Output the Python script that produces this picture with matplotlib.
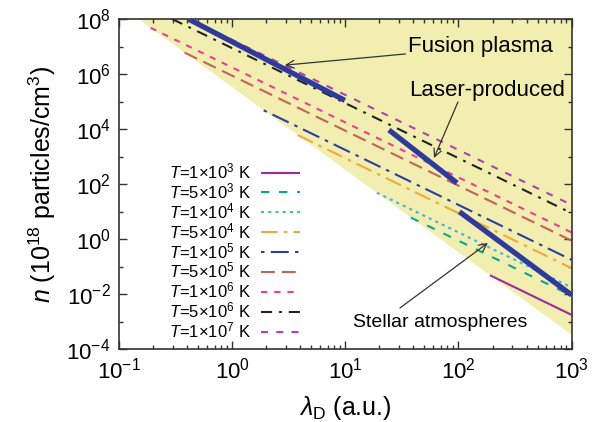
import matplotlib
matplotlib.use("Agg")
import matplotlib.pyplot as plt
from matplotlib.ticker import LogLocator, NullFormatter, FixedLocator

plt.rcParams['font.family'] = ['Liberation Sans', 'DejaVu Sans']
plt.rcParams['mathtext.fontset'] = 'custom'
plt.rcParams['mathtext.rm'] = 'Liberation Sans'
plt.rcParams['mathtext.it'] = 'Liberation Sans:italic'
plt.rcParams['lines.scale_dashes'] = False

# ---- data ----
temps_label = ["1\u00d710$^{3}$", "5\u00d710$^{3}$", "1\u00d710$^{4}$", "5\u00d710$^{4}$",
               "1\u00d710$^{5}$", "5\u00d710$^{5}$", "1\u00d710$^{6}$", "5\u00d710$^{6}$",
               "1\u00d710$^{7}$"]
# start / end of each temperature line (lambda_D in a.u., n in 1e18 cm^-3)
lam_start = [190, 38, 19, 3.8, 1.9, 0.38, 0.19, 0.295, 0.417]
n_start   = [0.048, 6.0, 48, 6.0e3, 4.8e4, 6.0e6, 4.8e7, 1e8, 1e8]
lam_end   = [1000, 1000, 1000, 1000, 1000, 1000, 1000, 1000, 1000]
n_end     = [0.00174, 0.0087, 0.0174, 0.087, 0.174, 0.87, 1.74, 8.7, 17.4]

# boundary of the shaded (plasma) region
bound_lam = [0.149, 1000, 1000]
bound_n   = [1e8, 3.3e-4, 1e8]

# thick highlighted segments
fusion_lam, fusion_n = [0.41, 9.9], [1e8, 1.1e5]
laser_lam, laser_n = [24.3, 97], [9.2e3, 109]
stellar_lam, stellar_n = [102, 1000], [9.8, 0.0092]

colors = ['#a3299b', '#00a98f', '#3db4e6', '#eeaa3a', '#2b3fa0',
          '#c0645a', '#f03c96', '#222222', '#b040b0']
dashes = [None, (6, 7), (2.2, 3), (12, 4.5, 2.5, 4.5), (2.5, 4.5, 13, 4.5),
          (10, 5), (4.5, 5), (8, 5, 2, 5), (5, 6)]

fig = plt.figure(figsize=(6.0, 4.22), dpi=100)
ax = fig.add_axes([119/600, 1-349/422, 452.6/600, 330/422])
ax.set_xscale('log')
ax.set_yscale('log')
ax.set_xlim(0.1, 1000)
ax.set_ylim(1e-4, 1e8)

ax.fill(bound_lam, bound_n, color='#f2eeb0', zorder=0, lw=0)

handles = []
for i in range(len(temps_label)):
    ln, = ax.plot([lam_start[i], lam_end[i]], [n_start[i], n_end[i]],
                  color=colors[i], lw=1.5, solid_capstyle='butt', dash_capstyle='butt',
                  label=r'$T$=' + temps_label[i] + ' K', zorder=2)
    if dashes[i] is not None:
        ln.set_dashes(dashes[i])
    handles.append(ln)

for lx, ly in [(fusion_lam, fusion_n), (laser_lam, laser_n), (stellar_lam, stellar_n)]:
    ax.plot(lx, ly, color='#2e3a9c', lw=3.8, solid_capstyle='butt', zorder=3)

arrow = dict(arrowstyle='->', color='#333333', lw=0.9, shrinkA=0, shrinkB=0,
             mutation_scale=14)
ax.annotate('Fusion plasma', xy=(2.93, 2.1e6), xytext=(36, 9.6e6),
            fontsize=16, va='center', ha='left', arrowprops=arrow, zorder=5)
ax.annotate('Laser-produced', xy=(60.8, 881), xytext=(37, 2.6e5),
            fontsize=16, va='center', ha='left', zorder=5)
ax.annotate('', xy=(60.8, 881), xytext=(99, 9.6e4), arrowprops=arrow, zorder=5)
ax.annotate('Stellar atmospheres', xy=(11.7, 8.9e-4), xytext=(11.7, 8.9e-4),
            fontsize=14, va='center', ha='left', zorder=5)
ax.annotate('', xy=(182, 0.72), xytext=(30.4, 3.1e-3), arrowprops=arrow, zorder=5)

ax.xaxis.set_major_locator(LogLocator(base=10, numticks=10))
ax.xaxis.set_minor_locator(LogLocator(base=10, subs=range(2, 10), numticks=50))
ax.xaxis.set_minor_formatter(NullFormatter())
ax.yaxis.set_major_locator(FixedLocator([1e-4, 1e-2, 1, 1e2, 1e4, 1e6, 1e8]))
ax.yaxis.set_minor_locator(FixedLocator([1e-3, 1e-1, 1e1, 1e3, 1e5, 1e7]))
ax.yaxis.set_minor_formatter(NullFormatter())
ax.tick_params(which='both', direction='in', top=True, right=True, labelsize=16,
               width=1.0, color='#333333')
ax.tick_params(which='major', length=6, pad=6)
ax.tick_params(which='minor', length=3)
for s in ax.spines.values():
    s.set_linewidth(1.2)
    s.set_color('#333333')

ax.set_xlabel(r'$\lambda_{\mathrm{D}}$ (a.u.)', fontsize=18, labelpad=8)
ax.set_ylabel(r'$n$ (10$^{18}$ particles/cm$^{3}$)', fontsize=18, labelpad=6)

leg = ax.legend(handles=handles, loc='center', bbox_to_anchor=(0.255, 0.297),
                frameon=False, fontsize=12, markerfirst=False, handlelength=2.3,
                labelspacing=0.0, borderpad=0, handletextpad=0.6)

fig.savefig('out.png', dpi=100)
